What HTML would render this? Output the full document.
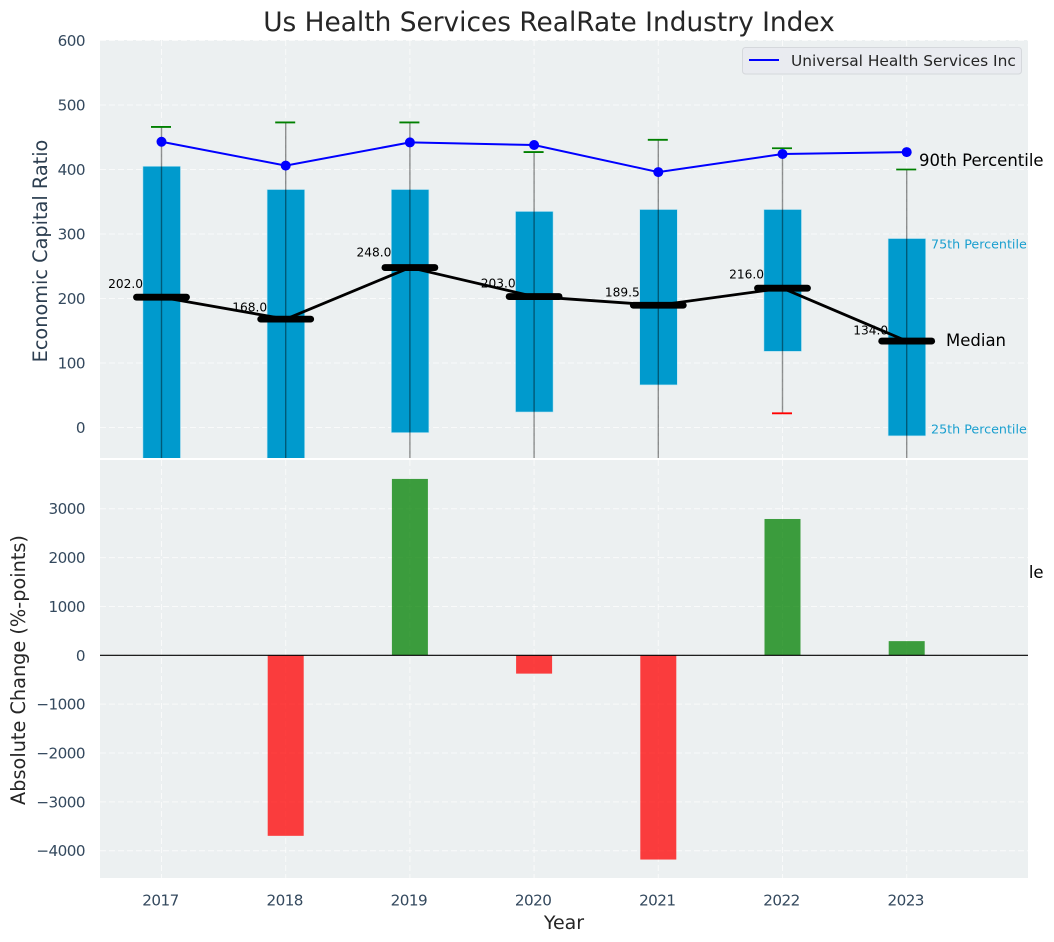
<!DOCTYPE html>
<html>
<head>
<meta charset="utf-8">
<title>Us Health Services RealRate Industry Index</title>
<style>
html,body{margin:0;padding:0;background:#fff;width:1054px;height:942px;overflow:hidden}
svg{display:block;font-family:"DejaVu Sans","Liberation Sans",sans-serif}
</style>
</head>
<body>
<svg id="chart" xmlns="http://www.w3.org/2000/svg" width="1054" height="942" viewBox="0 0 1054 942">
<defs>
<clipPath id="clip-top"><rect x="100" y="40" width="928" height="418"/></clipPath>
<clipPath id="clip-bottom"><rect x="100" y="460" width="928" height="418"/></clipPath>
</defs>
</svg>
<script>
const years = [2017, 2018, 2019, 2020, 2021, 2022, 2023];
const p90 = [466, 473, 473, 427, 446, 433, 400];
const p75 = [405, 369, 369, 335, 338, 338, 293];
const medians = [202, 168, 248, 203, 189.5, 216, 134];
const p25 = [-90, -70, -8, 24, 66, 118, -13];
const p10 = [-160, -170, -120, -110, -100, 22, -130];
const company = [443, 406, 442, 438, 396, 424, 427];
const changes = [0, -3695, 3610, -375, -4180, 2790, 290];
const topTicks = [0, 100, 200, 300, 400, 500, 600];
const bottomTicks = [-4000, -3000, -2000, -1000, 0, 1000, 2000, 3000];

const svg = document.getElementById('chart');
const NS = 'http://www.w3.org/2000/svg';
const LEFT = 100, RIGHT = 1028, TOP1 = 40, BOT1 = 458, TOP2 = 460, BOT2 = 878;

function xScale(year) { return 161.5 + (year - 2017) * 124.2; }
function yTop(v) { return 427.5 - v * 0.645; }
function yBottom(v) { return 655.3 - v * 0.04886; }
function fmt(v) { return String(v).replace('-', '\u2212'); }

function mk(tag, attrs, parent, text) {
  const el = document.createElementNS(NS, tag);
  for (const k in attrs) el.setAttribute(k, attrs[k]);
  if (text !== undefined) el.textContent = text;
  (parent || svg).appendChild(el);
  return el;
}
function group(clip) {
  const g = mk('g', clip ? {'clip-path': 'url(#' + clip + ')'} : {});
  return g;
}
let el;

/* hidden-behind-panel label: only its tail pokes out past the lower axes */
el = mk('text', {x: 919, y: 578, 'font-size': 16.5, fill: '#000'}, svg, '10th Percentile');



/* axes backgrounds */
el = mk('rect', {x: LEFT, y: TOP1, width: RIGHT - LEFT, height: BOT1 - TOP1, fill: '#ecf0f1'});


el = mk('rect', {x: LEFT, y: TOP2, width: RIGHT - LEFT, height: BOT2 - TOP2, fill: '#ecf0f1'});



/* title and axis titles */
el = mk('text', {x: 549, y: 31, 'font-size': 26.4, fill: '#262626', 'text-anchor': 'middle'}, svg, 'Us Health Services RealRate Industry Index');


el = mk('text', {x: 0, y: 0, 'font-size': 19.3, fill: '#2c3e50', 'text-anchor': 'middle', transform: 'translate(47,251) rotate(-90)'}, svg, 'Economic Capital Ratio');


el = mk('text', {x: 0, y: 0, 'font-size': 19.3, fill: '#262626', 'text-anchor': 'middle', transform: 'translate(25,670) rotate(-90)'}, svg, 'Absolute Change (%-points)');


el = mk('text', {x: 564, y: 929, 'font-size': 19, fill: '#262626', 'text-anchor': 'middle'}, svg, 'Year');



/* grids and tick labels */
const gridAttrs = {stroke: '#ffffff', 'stroke-width': 1, 'stroke-dasharray': '6 3', opacity: 0.7};
const tickAttrs = {'font-size': 15.2, 'letter-spacing': '-0.55px', fill: '#34495e'};
topTicks.forEach(function (t) {
  const y = yTop(t);
  let e = mk('line', Object.assign({x1: LEFT, x2: RIGHT, y1: y, y2: y}, gridAttrs));
  
  
  e = mk('text', Object.assign({x: 85, y: y + 5.5, 'text-anchor': 'end'}, tickAttrs), svg, fmt(t));
  
  
});
bottomTicks.forEach(function (t) {
  const y = yBottom(t);
  let e = mk('line', Object.assign({x1: LEFT, x2: RIGHT, y1: y, y2: y}, gridAttrs));
  
  
  e = mk('text', Object.assign({x: 85, y: y + 5.5, 'text-anchor': 'end'}, tickAttrs), svg, fmt(t));
  
  
});
years.forEach(function (yr) {
  const x = xScale(yr);
  let e = mk('line', Object.assign({x1: x, x2: x, y1: TOP1, y2: BOT1}, gridAttrs));
  
  
  e = mk('line', Object.assign({x1: x, x2: x, y1: TOP2, y2: BOT2}, gridAttrs));
  
  
  e = mk('text', Object.assign({x: x - 1, y: 905.5, 'text-anchor': 'middle'}, tickAttrs), svg, String(yr));
  
  
});

/* top panel marks */
const gTop = group('clip-top');



years.forEach(function (yr, i) {
  const x = xScale(yr);
  const box = mk('rect', {x: x - 18.6, width: 37.6, y: yTop(p75[i]), height: yTop(p25[i]) - yTop(p75[i]), fill: '#009acd', stroke: '#bfe6f3', 'stroke-width': 0.6}, gTop);
  
  
  const whisker = mk('line', {x1: x, x2: x, y1: yTop(p90[i]), y2: yTop(p10[i]), stroke: '#000', 'stroke-opacity': 0.42, 'stroke-width': 1.4}, gTop);
  
  
  const capTop = mk('line', {x1: x - 10.5, x2: x + 9.5, y1: yTop(p90[i]), y2: yTop(p90[i]), stroke: '#008000', 'stroke-width': 1.8}, gTop);
  
  
  const capLow = mk('line', {x1: x - 10.5, x2: x + 9.5, y1: yTop(p10[i]), y2: yTop(p10[i]), stroke: '#ff0000', 'stroke-width': 1.8}, gTop);
  
  
});

const companyLine = mk('polyline', {points: years.map(function (yr, i) { return xScale(yr) + ',' + yTop(company[i]); }).join(' '), fill: 'none', stroke: '#0000ff', 'stroke-width': 2}, gTop);


years.forEach(function (yr, i) {
  const dot = mk('circle', {cx: xScale(yr), cy: yTop(company[i]), r: 5, fill: '#0000ff'}, gTop);
  
  
});

const medianLine = mk('polyline', {points: years.map(function (yr, i) { return xScale(yr) + ',' + yTop(medians[i]); }).join(' '), fill: 'none', stroke: '#000', 'stroke-width': 2.8}, gTop);


years.forEach(function (yr, i) {
  const x = xScale(yr), y = yTop(medians[i]);
  const bar = mk('line', {x1: x - 25, x2: x + 25, y1: y, y2: y, stroke: '#000', 'stroke-width': 6.8, 'stroke-linecap': 'round'}, gTop);
  
  
});
years.forEach(function (yr, i) {
  const lbl = mk('text', {x: xScale(yr) - 18.5, y: yTop(medians[i] * 1.066 + 7.7) + 4.3, 'font-size': 12.2, fill: '#000', 'text-anchor': 'end'}, svg, medians[i].toFixed(1));
  
  
});

/* annotations for the last box */
el = mk('text', {x: 919, y: 166, 'font-size': 16.5, fill: '#000'}, svg, '90th Percentile');


el = mk('text', {x: 931, y: 248.5, 'font-size': 12.7, fill: '#1a9fcf'}, svg, '75th Percentile');


el = mk('text', {x: 946, y: 346, 'font-size': 16.5, fill: '#000'}, svg, 'Median');


el = mk('text', {x: 931, y: 433.5, 'font-size': 12.7, fill: '#1a9fcf'}, svg, '25th Percentile');



/* legend */
el = mk('rect', {x: 742.5, y: 47.5, width: 279, height: 26.5, rx: 3, fill: '#e9ebf0', stroke: '#d5d8dc', 'stroke-width': 1});


el = mk('line', {x1: 749, x2: 779, y1: 60, y2: 60, stroke: '#0000ff', 'stroke-width': 2});


el = mk('text', {x: 791, y: 66, 'font-size': 15.4, fill: '#262626'}, svg, 'Universal Health Services Inc');



/* bottom panel marks */
const gBottom = group('clip-bottom');


years.forEach(function (yr, i) {
  const v = changes[i];
  if (v === 0) return;
  const x = xScale(yr);
  const y0 = yBottom(0), y1 = yBottom(v);
  const bar = mk('rect', {x: x - 18, width: 36, y: Math.min(y0, y1), height: Math.abs(y1 - y0), fill: v >= 0 ? '#008000' : '#ff0000', 'fill-opacity': 0.75}, gBottom);
  
  
});
el = mk('line', {x1: LEFT, x2: RIGHT, y1: yBottom(0), y2: yBottom(0), stroke: '#000', 'stroke-width': 1.2}, gBottom);


</script>
</body>
</html>
